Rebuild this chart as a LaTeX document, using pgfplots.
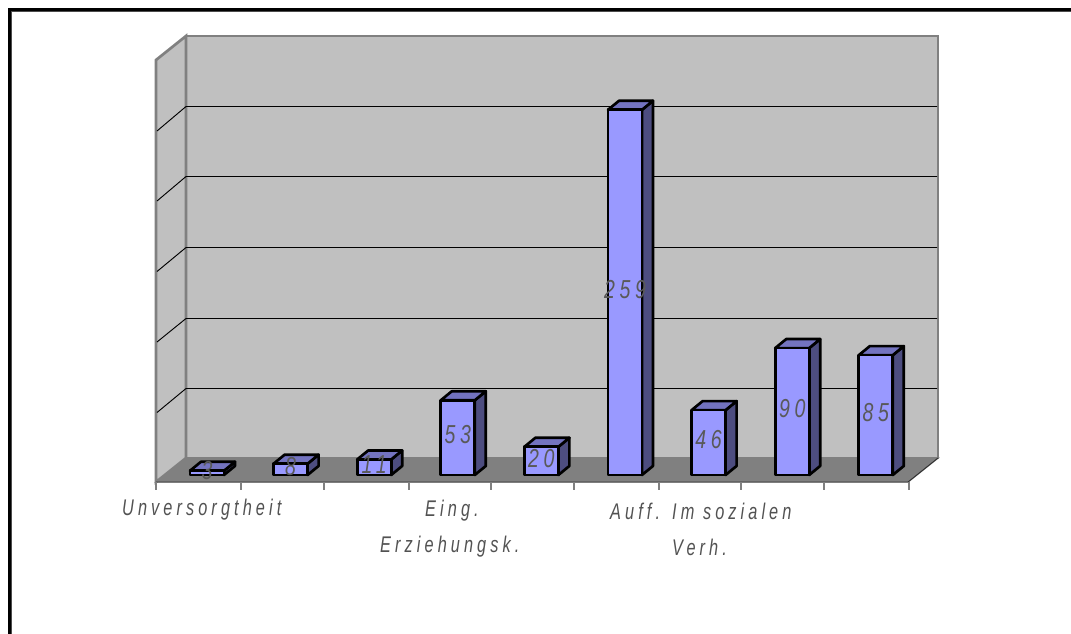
\documentclass[border=0pt]{standalone}
\usepackage{pgfplots}
\pgfplotsset{compat=1.18}
\usepackage{fontspec}
\setmainfont{Liberation Sans}
\definecolor{wall}{HTML}{C0C0C0}
\definecolor{floorc}{HTML}{808080}
\definecolor{front}{HTML}{9999FF}
\definecolor{topc}{HTML}{7373BF}
\definecolor{sidec}{HTML}{4D4D80}
\tikzset{vlab/.style={inner sep=0pt,text=black!65,font=\fontsize{19.5}{19.5}\selectfont\itshape\addfontfeature{LetterSpace=24},xscale=0.75}}
\newcommand{\wl}[3]{\node[anchor=west,inner sep=0pt,text=black!68,font=\fontsize{17}{17}\selectfont\itshape\addfontfeature{LetterSpace=25},xscale=0.72] at (axis cs:#1,#2) {#3};}
% one 3-D column: category index, value
\newcommand{\threedbar}[2]{%
  \pgfmathsetmacro{\xl}{#1-0.2033}\pgfmathsetmacro{\xr}{#1+0.2033}%
  \pgfmathsetmacro{\xa}{\xl+0.1316}\pgfmathsetmacro{\xb}{\xr+0.1316}%
  \pgfmathsetmacro{\yt}{#2+6.4}\pgfmathsetmacro{\yb}{6.4}%
  \addplot[fill=sidec,draw=black,line width=2pt,line join=round] coordinates {(\xr,0)(\xb,\yb)(\xb,\yt)(\xr,#2)} --cycle;
  \addplot[fill=topc,draw=black,line width=2pt,line join=round] coordinates {(\xl,#2)(\xr,#2)(\xb,\yt)(\xa,\yt)} --cycle;
  \addplot[fill=front,draw=black,line width=2pt,line join=round] coordinates {(\xl,0)(\xr,0)(\xr,#2)(\xl,#2)} --cycle;
  \pgfmathsetmacro{\ym}{#2/2+2}%
  \edef\tmp{\noexpand\node[vlab] at (axis cs:#1,\ym) {#2};}\tmp
}
\begin{document}
\begin{tikzpicture}[x=1pt,y=1pt]
\useasboundingbox (0,0) rectangle (803.25pt,474.75pt);
\begin{axis}[at={(0,0)},anchor=south west,width=803.25pt,height=474.75pt,scale only axis,
  xmin=0,xmax=1071,ymin=0,ymax=633,y dir=reverse,axis lines=none,clip=true]
% outer frame
\addplot[draw=black!70,line width=0.6pt] coordinates {(11,640)(11,11)(1080,11)};
\addplot[draw=black,line width=1.9pt] coordinates {(9.3,640)(9.3,9.3)(1080,9.3)};
% back wall
\addplot[fill=wall,draw=floorc,line width=2pt] coordinates {(186,36)(938,36)(938,458)(186,458)} --cycle;
% left wall
\addplot[fill=wall,draw=floorc,line width=2pt] coordinates {(156,60)(186,36)(186,458)(156,482)} --cycle;
% floor
\addplot[fill=floorc,draw=floorc,line width=1pt] coordinates {(156,482)(186,458)(938,458)(908,482)} --cycle;
\addplot[draw=black!80,line width=0.7pt] coordinates {(156,482)(908,482)(938,458)};
% gridlines
\addplot[draw=black,line width=0.7pt] coordinates {(157,131)(186,106.5)(937,106.5)};
\addplot[draw=black,line width=0.7pt] coordinates {(157,201)(186,176.5)(937,176.5)};
\addplot[draw=black,line width=0.7pt] coordinates {(157,271.5)(186,247.5)(937,247.5)};
\addplot[draw=black,line width=0.7pt] coordinates {(157,342)(186,318.5)(937,318.5)};
\addplot[draw=black,line width=0.7pt] coordinates {(157,412.5)(186,388.5)(937,388.5)};
% ticks
\addplot[draw=floorc,line width=0.8pt] coordinates {(156,482)(156,490)};
\addplot[draw=floorc,line width=0.8pt] coordinates {(241,482)(241,490)};
\addplot[draw=floorc,line width=0.8pt] coordinates {(324,482)(324,490)};
\addplot[draw=floorc,line width=0.8pt] coordinates {(409,482)(409,490)};
\addplot[draw=floorc,line width=0.8pt] coordinates {(491,482)(491,490)};
\addplot[draw=floorc,line width=0.8pt] coordinates {(574,482)(574,490)};
\addplot[draw=floorc,line width=0.8pt] coordinates {(659,482)(659,490)};
\addplot[draw=floorc,line width=0.8pt] coordinates {(741,482)(741,490)};
\addplot[draw=floorc,line width=0.8pt] coordinates {(824,482)(824,490)};
\addplot[draw=floorc,line width=0.8pt] coordinates {(909,482)(909,490)};
% category labels
\wl{122}{510}{Unversorgtheit}
\wl{425}{511}{Eing.}
\wl{380}{547}{Erziehungsk.}
\wl{610}{511}{Auff.}
\wl{672}{511}{Im sozialen}
\wl{672}{547}{Verh.}
\end{axis}
\begin{axis}[at={(0,0)},anchor=south west,width=803.25pt,height=474.75pt,scale only axis,
  xmin=-2.476,xmax=10.335,ymin=-112.06,ymax=336.88,axis lines=none,clip=false]
\threedbar{0}{3}
\threedbar{1}{8}
\threedbar{2}{11}
\threedbar{3}{53}
\threedbar{4}{20}
\threedbar{5}{259}
\threedbar{6}{46}
\threedbar{7}{90}
\threedbar{8}{85}
\end{axis}
\end{tikzpicture}
\end{document}
